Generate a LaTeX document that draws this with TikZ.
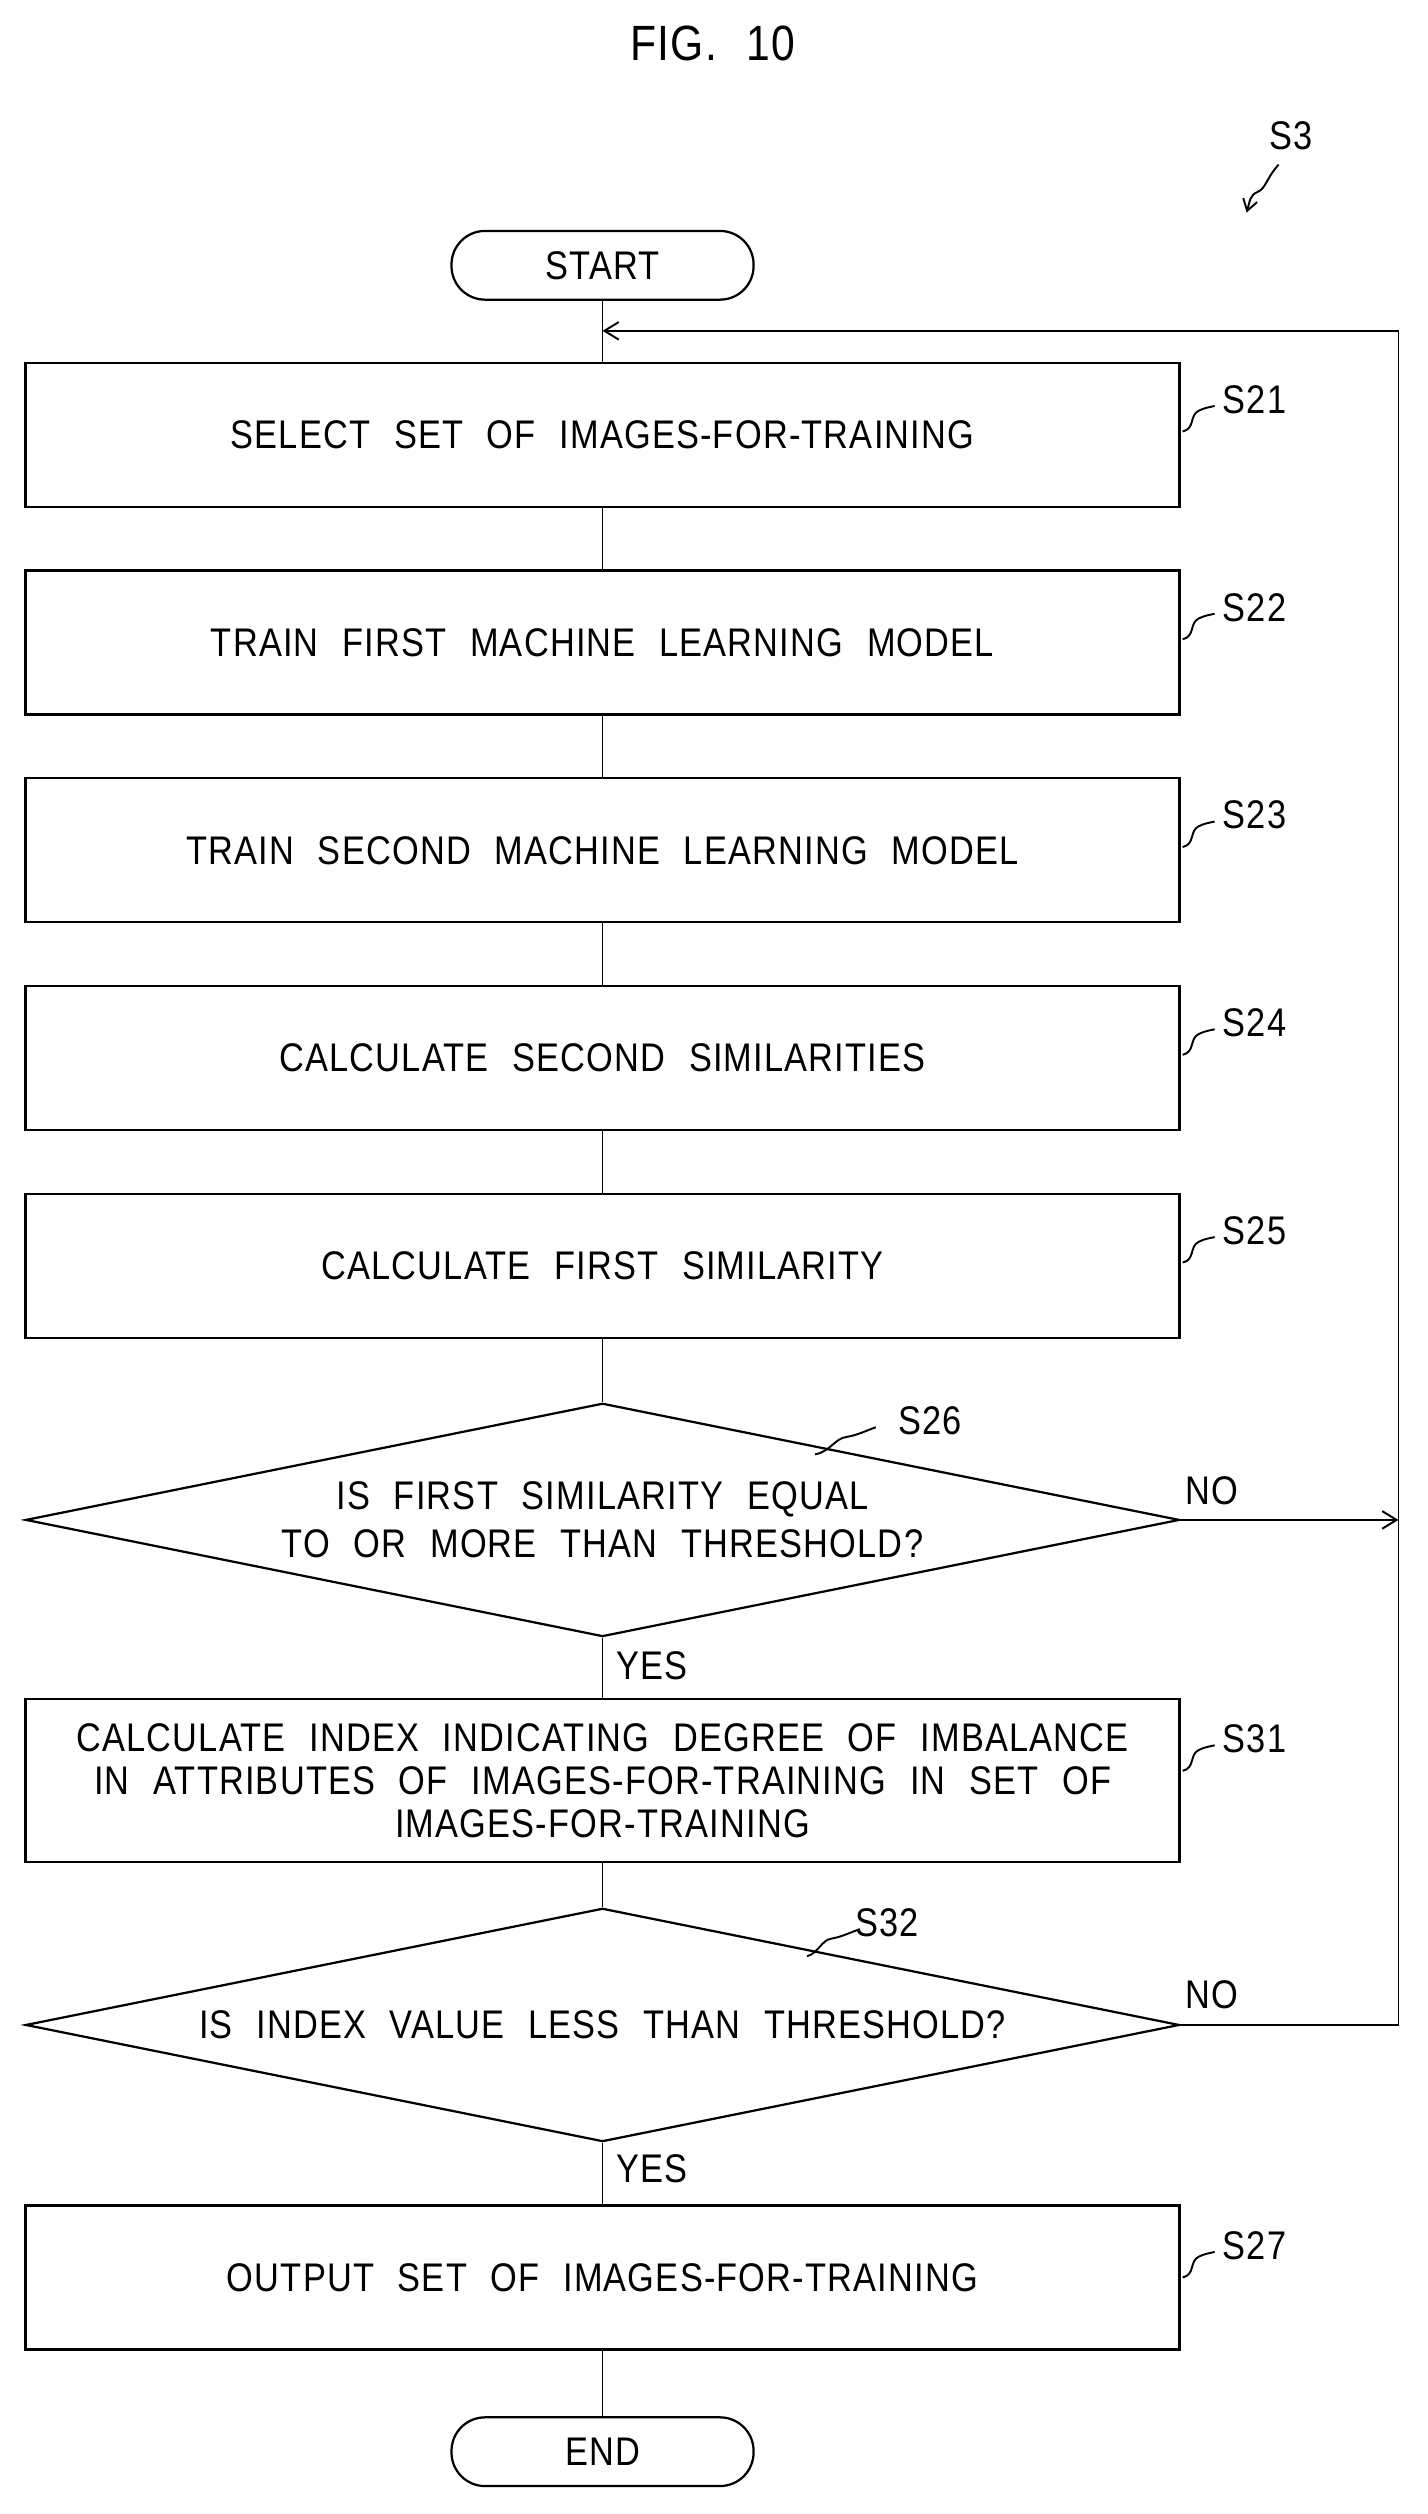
\documentclass[tikz,border=0pt]{standalone}
\usepackage{fontspec}
\setmainfont[FakeStretch=0.86,WordSpace=2.2,LetterSpace=3]{Liberation Sans}
\usetikzlibrary{shapes.geometric,arrows.meta}
\begin{document}
\begin{tikzpicture}[x=1pt,y=-1pt,
  every node/.style={font=\fontsize{25}{30}\selectfont},
  box/.style={draw,line width=1.4pt,minimum width=722pt,minimum height=90pt,align=center,inner sep=0pt},
  term/.style={draw,line width=1.4pt,rounded corners=21pt,minimum width=189pt,minimum height=43pt,inner sep=0pt},
  dec/.style={draw,line width=1.4pt,diamond,aspect=5,minimum width=722pt,minimum height=146pt,inner sep=0pt,align=center},
  ln/.style={line width=1.2pt},
  arr/.style={line width=1.2pt,-{Straight Barb[length=9pt,width=11pt]}},
  sq/.style={line width=1.2pt}]
\useasboundingbox (0,0) rectangle (893,1573);
\node (title) at (446,27) {\fontsize{31}{34}\selectfont FIG. 10};
\node (s3) at (808,85) {S3};
\coordinate (s3a) at (800,103);
\coordinate (s3b) at (780,133);
\draw[sq,-{Straight Barb[length=7pt,width=9pt]}] (s3a) .. controls (792,112) and (792,118) .. (787,120) .. controls (782,122) and (782,126) .. (s3b);
\node[term] (start) at (377,166) {START};
\node[box] (b21) at (377,272) {SELECT SET OF IMAGES-FOR-TRAINING};
\node[box] (b22) at (377,402) {TRAIN FIRST MACHINE LEARNING MODEL};
\node[box] (b23) at (377,532) {TRAIN SECOND MACHINE LEARNING MODEL};
\node[box] (b24) at (377,662) {CALCULATE SECOND SIMILARITIES};
\node[box] (b25) at (377,792) {CALCULATE FIRST SIMILARITY};
\node[dec] (d26) at (377,951) {IS FIRST SIMILARITY EQUAL\\TO OR MORE THAN THRESHOLD?};
\node[box,minimum height=102pt] (b31) at (377,1114) {CALCULATE INDEX INDICATING DEGREE OF IMBALANCE\\[-3pt]IN ATTRIBUTES OF IMAGES-FOR-TRAINING IN SET OF\\[-3pt]IMAGES-FOR-TRAINING};
\node[dec] (d32) at (377,1267) {IS INDEX VALUE LESS THAN THRESHOLD?};
\node[box] (b27) at (377,1425) {OUTPUT SET OF IMAGES-FOR-TRAINING};
\node[term] (end) at (377,1534) {END};
\draw[ln] (start) -- (b21);
\draw[ln] (b21) -- (b22);
\draw[ln] (b22) -- (b23);
\draw[ln] (b23) -- (b24);
\draw[ln] (b24) -- (b25);
\draw[ln] (b25) -- (d26);
\draw[ln] (d26) -- (b31);
\draw[ln] (b31) -- (d32);
\draw[ln] (d32) -- (b27);
\draw[ln] (b27) -- (end);
\coordinate (r1) at (875,951);
\coordinate (r2) at (875,1267);
\coordinate (r3) at (875,207);
\coordinate (m3) at (377,207);
\draw[arr] (d26.east) -- (r1);
\draw[arr] (d32.east) -- (r2) -- (r3) -- (m3);
\node (no1) at (758,933) {NO};
\node (no2) at (758,1248) {NO};
\node (yes1) at (408,1042) {YES};
\node (yes2) at (408,1357) {YES};
\foreach \n/\y in {21/250,22/380,23/510,24/640,25/770,31/1088,27/1405}{
  \node (l\n) at (785,\y) {S\n};
  \draw[sq] (740,\y+20) .. controls (748,\y+18) and (744,\y+10) .. (750,\y+7) .. controls (754,\y+5) and (756,\y+5) .. (760,\y+4);
}
\node (l26) at (582,889) {S26};
\draw[sq] (510,910) .. controls (520,908) and (522,900) .. (530,899) .. controls (536,898) and (540,896) .. (548,893);
\node (l32) at (555,1203) {S32};
\draw[sq] (505,1224) .. controls (512,1222) and (514,1214) .. (520,1213) .. controls (526,1212) and (530,1210) .. (538,1207);
\end{tikzpicture}
\end{document}
